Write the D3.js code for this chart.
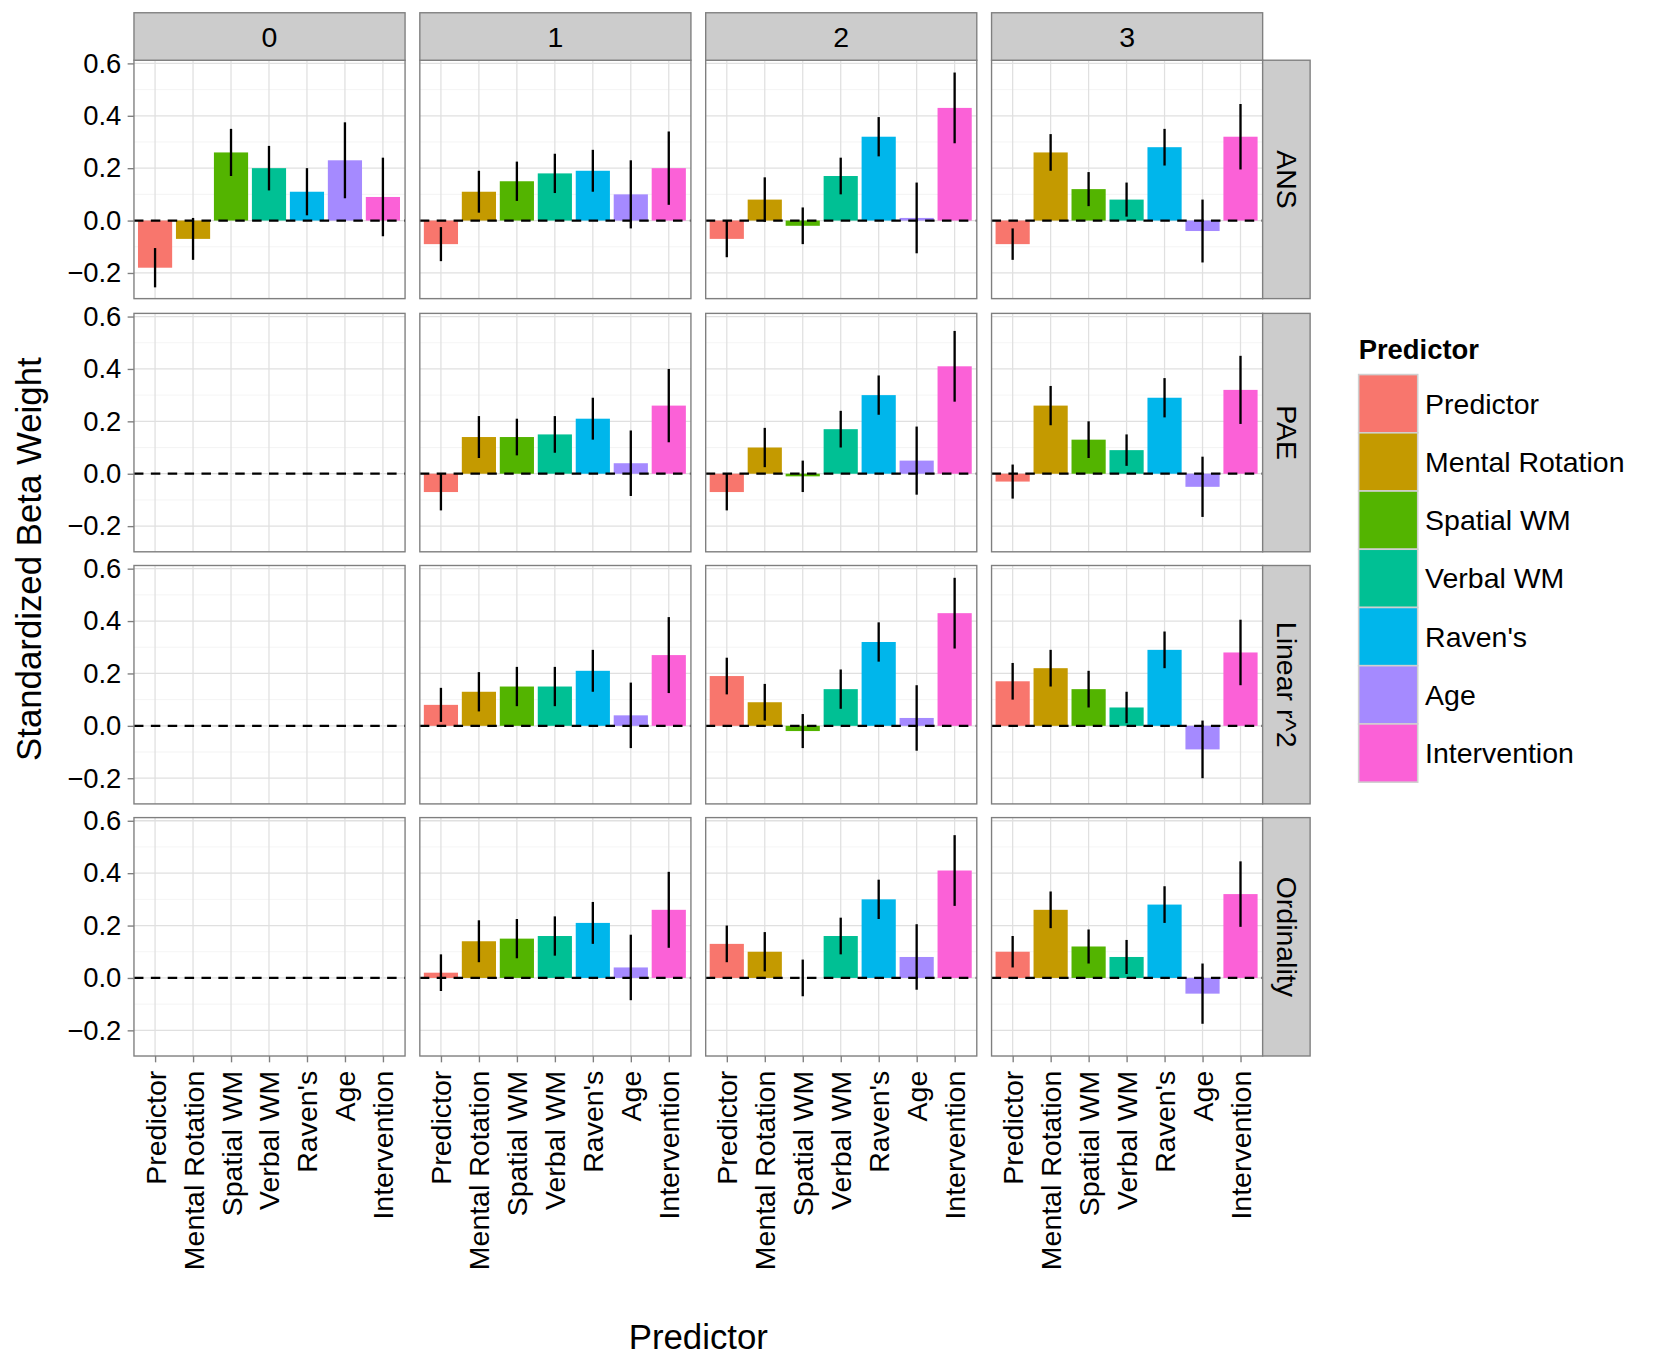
<!DOCTYPE html>
<html><head><meta charset="utf-8">
<script src="https://cdn.jsdelivr.net/npm/d3@7"></script>
<style>body{margin:0;background:#fff}text{font-family:"Liberation Sans",Arial,sans-serif}</style>
</head><body><svg id="chart" width="1654" height="1362" viewBox="0 0 1568 1291"></svg>
<script>
const predictors = ["Predictor","Mental Rotation","Spatial WM","Verbal WM","Raven's","Age","Intervention"];
const colors = ["#F8766D","#C49A00","#53B400","#00C094","#00B6EB","#A58AFF","#FB61D7"];
const cols = ["0","1","2","3"];
const rows = ["ANS","PAE","Linear r^2","Ordinality"];
const yTicks = [-0.2,0.0,0.2,0.4,0.6];

// estimates [row][col], null = empty panel
const est = [
  [[-0.18,-0.07,0.26,0.20,0.11,0.23,0.09],[-0.09,0.11,0.15,0.18,0.19,0.10,0.20],[-0.07,0.08,-0.02,0.17,0.32,0.01,0.43],[-0.09,0.26,0.12,0.08,0.28,-0.04,0.32]],
  [null,[-0.07,0.14,0.14,0.15,0.21,0.04,0.26],[-0.07,0.10,-0.01,0.17,0.30,0.05,0.41],[-0.03,0.26,0.13,0.09,0.29,-0.05,0.32]],
  [null,[0.08,0.13,0.15,0.15,0.21,0.04,0.27],[0.19,0.09,-0.02,0.14,0.32,0.03,0.43],[0.17,0.22,0.14,0.07,0.29,-0.09,0.28]],
  [null,[0.02,0.14,0.15,0.16,0.21,0.04,0.26],[0.13,0.10,0.0,0.16,0.30,0.08,0.41],[0.10,0.26,0.12,0.08,0.28,-0.06,0.32]]
];
// half-width of error bars
const err = [
  [[0.075,0.08,0.09,0.085,0.09,0.145,0.15],[0.065,0.08,0.075,0.075,0.08,0.13,0.14],[0.07,0.085,0.07,0.07,0.075,0.135,0.135],[0.06,0.07,0.065,0.065,0.07,0.12,0.125]],
  [null,[0.07,0.08,0.07,0.07,0.08,0.125,0.14],[0.07,0.075,0.06,0.07,0.075,0.13,0.135],[0.065,0.075,0.07,0.06,0.075,0.115,0.13]],
  [null,[0.065,0.075,0.075,0.075,0.08,0.125,0.145],[0.07,0.07,0.065,0.075,0.075,0.125,0.135],[0.07,0.07,0.07,0.06,0.07,0.11,0.125]],
  [null,[0.07,0.08,0.075,0.075,0.08,0.125,0.145],[0.07,0.075,0.07,0.07,0.075,0.125,0.135],[0.06,0.07,0.065,0.065,0.07,0.115,0.125]]
];

const svg = d3.select("#chart");
const colX = [127,398,669,940], pw = 257;
const rowY = [57,297,536,775], ph = 226;

const x = d3.scalePoint().domain(predictors).range([20, 20+36*6]);
const bw = 32.4;

rows.forEach((rn, r) => {
  const y = d3.scaleLinear().domain([-0.298,0.612]).range([rowY[r]+ph, rowY[r]]);
  cols.forEach((cn, c) => {
    const g = svg.append("g").attr("transform", `translate(${colX[c]},0)`);
    // grid
    d3.range(-0.3,0.65,0.1).forEach(v => {
      const major = Math.abs(Math.round(v*10)) % 2 === 0;
      g.append("line").attr("x1",0).attr("x2",pw).attr("y1",y(v)).attr("y2",y(v))
        .attr("stroke", major ? "#e0e0e0" : "#f2f2f2").attr("stroke-width", major?1.2:0.8);
    });
    predictors.forEach(p => g.append("line").attr("x1",x(p)).attr("x2",x(p))
      .attr("y1",rowY[r]).attr("y2",rowY[r]+ph).attr("stroke","#e0e0e0").attr("stroke-width",1.2));
    const d = est[r][c];
    if (d) {
      g.selectAll(".bar").data(d).join("rect")
        .attr("x",(v,i)=>x(predictors[i])-bw/2).attr("width",bw)
        .attr("y",v=>y(Math.max(0,v))).attr("height",v=>Math.abs(y(v)-y(0)))
        .attr("fill",(v,i)=>colors[i]);
      g.selectAll(".eb").data(d).join("line")
        .attr("x1",(v,i)=>x(predictors[i])).attr("x2",(v,i)=>x(predictors[i]))
        .attr("y1",(v,i)=>y(v-err[r][c][i])).attr("y2",(v,i)=>y(v+err[r][c][i]))
        .attr("stroke","#000").attr("stroke-width",2.2);
    }
    g.append("line").attr("x1",0).attr("x2",pw).attr("y1",y(0)).attr("y2",y(0))
      .attr("stroke","#000").attr("stroke-width",2.2).attr("stroke-dasharray","9,7");
    g.append("rect").attr("x",0).attr("y",rowY[r]).attr("width",pw).attr("height",ph)
      .attr("fill","none").attr("stroke","#7f7f7f").attr("stroke-width",1.3);
    if (r === 0) {
      g.append("rect").attr("x",0).attr("y",12).attr("width",pw).attr("height",45)
        .attr("fill","#cccccc").attr("stroke","#7f7f7f").attr("stroke-width",1.3);
      g.append("text").attr("x",pw/2).attr("y",44).attr("text-anchor","middle")
        .attr("font-size",27).text(cn);
    }
    if (r === rows.length-1) {
      const ax = g.append("g").attr("transform",`translate(0,${rowY[r]+ph})`)
        .call(d3.axisBottom(x).tickSize(6).tickPadding(6));
      ax.select(".domain").remove();
      ax.selectAll("line").attr("stroke","#7f7f7f").attr("stroke-width",1.3);
      ax.selectAll("text").attr("font-size",27).attr("fill","#000")
        .attr("transform","rotate(-90)").attr("text-anchor","end")
        .attr("x",-14).attr("y",0).attr("dy","0.35em");
    }
  });
  // right strip
  svg.append("rect").attr("x",1197).attr("y",rowY[r]).attr("width",45).attr("height",ph)
    .attr("fill","#cccccc").attr("stroke","#7f7f7f").attr("stroke-width",1.3);
  svg.append("text").attr("transform",`translate(1211,${rowY[r]+ph/2}) rotate(90)`)
    .attr("text-anchor","middle").attr("font-size",27).text(rn);
  // y axis
  const ay = svg.append("g").attr("transform","translate(127,0)")
    .call(d3.axisLeft(y).tickValues(yTicks).tickFormat(d3.format(".1f")).tickSize(6).tickPadding(6));
  ay.select(".domain").remove();
  ay.selectAll("line").attr("stroke","#7f7f7f").attr("stroke-width",1.3);
  ay.selectAll("text").attr("font-size",26).attr("fill","#000");
});

svg.append("text").attr("x",662).attr("y",1279).attr("text-anchor","middle")
  .attr("font-size",33).text("Predictor");
svg.append("text").attr("transform","translate(39,530) rotate(-90)").attr("text-anchor","middle")
  .attr("font-size",33).text("Standardized Beta Weight");

// legend
const lg = svg.append("g").attr("transform","translate(1288,0)");
lg.append("text").attr("x",0).attr("y",340).attr("font-size",26).attr("font-weight","bold").text("Predictor");
predictors.forEach((p,i) => {
  lg.append("rect").attr("x",0).attr("y",355+i*55.2).attr("width",56).attr("height",55.2)
    .attr("fill",colors[i]).attr("stroke","#d0d0d0").attr("stroke-width",1.5);
  lg.append("text").attr("x",63).attr("y",355+i*55.2+37).attr("font-size",27).text(p);
});
</script></body></html>
